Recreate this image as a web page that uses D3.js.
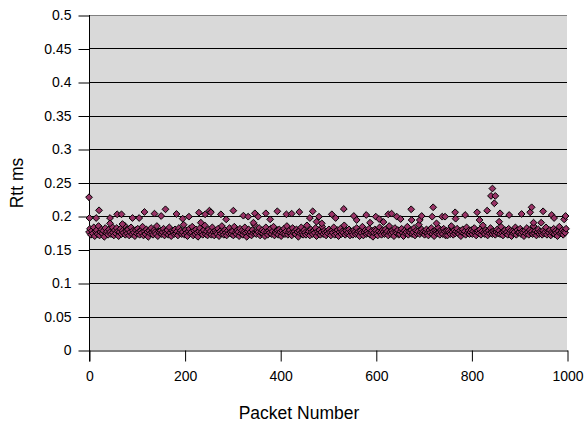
<!DOCTYPE html>
<html>
<head>
<meta charset="utf-8">
<script src="https://cdn.jsdelivr.net/npm/d3@7"></script>
<style>
  body { margin: 0; background: #fff; }
  text { font-family: "Liberation Sans", Arial, sans-serif; fill: #000; }
</style>
</head>
<body>
<script>
// Rtt of every second packet (packet = index * 2)
const bandRtt = [
  0.176,0.181,0.172,0.178,0.174,0.183,0.170,0.177,0.179,0.173,0.185,0.171,0.176,0.180,0.174,0.178,0.169,0.182,0.175,0.177,0.172,0.180,0.176,0.173,0.184,
  0.175,0.171,0.179,0.174,0.182,0.177,0.170,0.176,0.181,0.173,0.178,0.175,0.186,0.172,0.177,0.174,0.180,0.171,0.176,0.183,0.173,0.178,0.175,0.170,0.179,
  0.174,0.181,0.176,0.172,0.178,0.175,0.184,0.171,0.177,0.173,0.180,0.176,0.169,0.178,0.174,0.182,0.175,0.172,0.179,0.176,0.173,0.185,0.170,0.177,0.175,
  0.178,0.173,0.176,0.181,0.171,0.177,0.174,0.179,0.172,0.183,0.175,0.170,0.178,0.176,0.173,0.180,0.174,0.177,0.171,0.182,0.175,0.178,0.173,0.176,0.187,
  0.172,0.179,0.175,0.170,0.177,0.181,0.174,0.176,0.184,0.171,0.178,0.173,0.180,0.175,0.169,0.177,0.182,0.174,0.176,0.172,0.179,0.186,0.173,0.177,0.171,
  0.180,0.174,0.177,0.172,0.183,0.176,0.171,0.178,0.175,0.173,0.181,0.170,0.177,0.174,0.185,0.176,0.172,0.179,0.175,0.171,0.178,0.174,0.182,0.176,0.173,
  0.177,0.171,0.184,0.175,0.173,0.179,0.176,0.170,0.181,0.174,0.178,0.172,0.176,0.183,0.175,0.169,0.177,0.180,0.173,0.176,0.171,0.179,0.174,0.187,0.175,
  0.173,0.178,0.176,0.182,0.171,0.175,0.179,0.174,0.177,0.170,0.183,0.176,0.172,0.178,0.175,0.181,0.173,0.177,0.184,0.171,0.176,0.174,0.179,0.172,0.180,
  0.176,0.170,0.178,0.174,0.181,0.173,0.177,0.185,0.172,0.176,0.179,0.174,0.171,0.182,0.175,0.177,0.173,0.180,0.176,0.169,0.178,0.174,0.183,0.175,0.172,
  0.179,0.175,0.172,0.186,0.174,0.177,0.171,0.180,0.176,0.173,0.178,0.175,0.182,0.170,0.177,0.174,0.179,0.172,0.176,0.184,0.173,0.178,0.175,0.171,0.177,
  0.174,0.180,0.176,0.171,0.178,0.175,0.183,0.172,0.177,0.174,0.179,0.170,0.176,0.181,0.173,0.177,0.175,0.186,0.172,0.178,0.174,0.176,0.180,0.171,0.177,
  0.175,0.172,0.179,0.176,0.173,0.182,0.174,0.177,0.170,0.178,0.175,0.184,0.171,0.176,0.179,0.173,0.177,0.174,0.181,0.172,0.176,0.178,0.169,0.175,0.180,
  0.178,0.174,0.171,0.177,0.183,0.175,0.172,0.179,0.176,0.173,0.180,0.174,0.177,0.171,0.185,0.176,0.173,0.178,0.175,0.170,0.182,0.176,0.174,0.179,0.172,
  0.173,0.177,0.181,0.175,0.170,0.178,0.174,0.176,0.184,0.172,0.177,0.175,0.179,0.173,0.176,0.182,0.171,0.178,0.174,0.177,0.187,0.173,0.176,0.180,0.175,
  0.177,0.172,0.176,0.180,0.174,0.171,0.179,0.175,0.182,0.173,0.177,0.170,0.178,0.176,0.174,0.183,0.175,0.172,0.179,0.176,0.173,0.181,0.177,0.171,0.178,
  0.171,0.178,0.175,0.173,0.185,0.176,0.172,0.179,0.174,0.177,0.181,0.175,0.173,0.178,0.170,0.176,0.180,0.174,0.177,0.172,0.183,0.175,0.178,0.173,0.176,
  0.179,0.173,0.177,0.182,0.175,0.171,0.176,0.178,0.174,0.180,0.172,0.177,0.186,0.175,0.173,0.179,0.176,0.171,0.178,0.174,0.182,0.176,0.173,0.177,0.175,
  0.172,0.176,0.180,0.174,0.178,0.173,0.184,0.175,0.171,0.177,0.179,0.174,0.176,0.172,0.181,0.175,0.178,0.170,0.177,0.174,0.176,0.183,0.172,0.179,0.175,
  0.176,0.181,0.173,0.177,0.175,0.170,0.178,0.174,0.182,0.176,0.172,0.179,0.175,0.177,0.173,0.185,0.174,0.178,0.171,0.176,0.180,0.173,0.177,0.175,0.172,
  0.178,0.174,0.176,0.183,0.172,0.177,0.175,0.179,0.171,0.176,0.174,0.181,0.173,0.178,0.175,0.170,0.177,0.184,0.174,0.176,0.179,0.172,0.177,0.175,0.181
];

// packets that stand out above the band
const spikePacket = [0,1,15,21,44,44,59,68,70,91,105,116,137,151,160,183,196,209,230,234,243,252,255,276,287,302,323,333,344,347,354,370,379,394,413,424,440,462,468,476,481,487,508,516,533,554,560,580,588,600,607,616,626,633,644,652,674,675,692,696,718,720,727,739,745,766,767,787,812,817,833,841,844,848,850,858,860,879,905,923,926,930,946,950,968,973,994,997];
const spikeRtt = [0.228,0.197,0.197,0.2085,0.197,0.189,0.2025,0.2025,0.188,0.197,0.197,0.206,0.2035,0.200,0.210,0.203,0.196,0.199,0.205,0.190,0.2025,0.208,0.2055,0.2025,0.195,0.208,0.2005,0.199,0.190,0.204,0.199,0.204,0.195,0.207,0.2025,0.2035,0.206,0.197,0.207,0.1915,0.199,0.189,0.2025,0.197,0.2105,0.200,0.194,0.2015,0.190,0.199,0.1955,0.191,0.2025,0.2035,0.199,0.1955,0.210,0.194,0.194,0.200,0.199,0.213,0.189,0.199,0.199,0.2055,0.196,0.2015,0.2055,0.194,0.208,0.230,0.241,0.219,0.230,0.1915,0.204,0.2015,0.203,0.2055,0.213,0.190,0.190,0.207,0.2015,0.197,0.195,0.200];

const xTicks = [0, 200, 400, 600, 800, 1000];
const yTicks = [0, 0.05, 0.1, 0.15, 0.2, 0.25, 0.3, 0.35, 0.4, 0.45, 0.5];

const width = 586, height = 425;
const plot = { left: 89, right: 567, top: 15, bottom: 350 };

const svg = d3.select("body").append("svg")
    .attr("width", width)
    .attr("height", height);

const x = d3.scaleLinear().domain([0, 1000]).range([plot.left, plot.right]);
const y = d3.scaleLinear().domain([0, 0.5]).range([plot.bottom, plot.top]);

// grey plot area
svg.append("rect")
    .attr("x", plot.left)
    .attr("y", plot.top)
    .attr("width", plot.right - plot.left)
    .attr("height", plot.bottom - plot.top)
    .style("fill", "#d9d9d9");

// horizontal gridlines
svg.selectAll(".grid")
    .data(yTicks.filter(d => d > 0))
    .enter().append("line")
    .attr("class", "grid")
    .attr("x1", plot.left)
    .attr("x2", plot.right)
    .attr("y1", d => Math.round(y(d)) + 0.5)
    .attr("y2", d => Math.round(y(d)) + 0.5)
    .style("stroke", d => d === 0.5 ? "#808080" : "#000")
    .style("stroke-width", "1px");

// axes
const yAxis = svg.append("g")
    .attr("transform", `translate(${plot.left + 0.5},0.5)`)
    .call(d3.axisLeft(y).tickValues(yTicks).tickSizeInner(11).tickSizeOuter(0).tickPadding(7)
        .tickFormat(d => String(+d.toFixed(2))));

const xAxis = svg.append("g")
    .attr("transform", `translate(0.5,${plot.bottom + 0.5})`)
    .call(d3.axisBottom(x).tickValues(xTicks).tickSizeInner(11).tickSizeOuter(0).tickPadding(10)
        .tickFormat(d3.format("d")));

[yAxis, xAxis].forEach(g => {
    g.select(".domain").style("stroke", "#000");
    g.selectAll(".tick line").style("stroke", "#000");
    g.selectAll("text").style("font-size", "14px").style("font-family", "Liberation Sans, Arial, sans-serif");
});
yAxis.select(".domain").attr("d", `M0,${plot.top - 0.5}V${plot.bottom + 11}`);

// diamonds
const diamond = "M0,-3.4L3.4,0L0,3.4L-3.4,0Z";
const points = bandRtt.map((v, i) => ({ packet: i * 2, rtt: v }))
    .concat(spikePacket.map((p, i) => ({ packet: p, rtt: spikeRtt[i] })));

svg.selectAll(".pt")
    .data(points)
    .enter().append("path")
    .attr("class", "pt")
    .attr("d", diamond)
    .attr("transform", d => `translate(${x(d.packet)},${y(d.rtt)})`)
    .style("fill", "#993366")
    .style("stroke", "#000")
    .style("stroke-width", "1px");

// axis titles
svg.append("text")
    .attr("x", 299)
    .attr("y", 419)
    .attr("text-anchor", "middle")
    .style("font-size", "17.5px")
    .text("Packet Number");

svg.append("text")
    .attr("transform", "translate(23,183) rotate(-90)")
    .attr("text-anchor", "middle")
    .style("font-size", "17.5px")
    .text("Rtt ms");
</script>
</body>
</html>
